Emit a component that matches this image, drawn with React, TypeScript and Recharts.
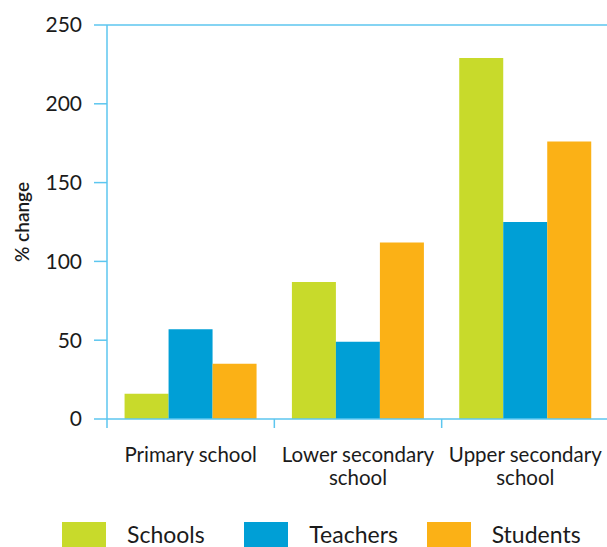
import React from 'react';
import { BarChart, Bar, XAxis, YAxis, ReferenceLine, Legend } from 'recharts';

const categories = ['Primary school', 'Lower secondary school', 'Upper secondary school'];
const categoryLines = [['Primary school'], ['Lower secondary', 'school'], ['Upper secondary', 'school']];
const schools = [16, 87, 229];
const teachers = [57, 49, 125];
const students = [35, 112, 176];
const yTicks = [0, 50, 100, 150, 200, 250];

const seriesNames = ['Schools', 'Teachers', 'Students'];
const seriesKeys = ['schools', 'teachers', 'students'];
const colors = ['#c8da2b', '#009fd6', '#fbb116'];

const AXIS = '#5cc6ef';
const TEXT = '#1b1b1b';
const FONT = 'Lato, "Open Sans", sans-serif';

const data = categories.map((c, i) => ({
  name: c,
  idx: i,
  schools: schools[i],
  teachers: teachers[i],
  students: students[i],
}));

const XTick = (props: any) => {
  const { x, y, payload, width, visibleTicksCount } = props;
  const band = width / visibleTicksCount;
  const lines = categoryLines[payload.index] || [String(payload.value)];
  return (
    <g>
      <line x1={x - band / 2} x2={x - band / 2} y1={y} y2={y + 9} stroke={AXIS} strokeWidth={1.5} />
      {lines.map((l, k) => (
        <text key={k} x={x} y={y + 43 + k * 23} textAnchor="middle" fill={TEXT} fontSize={20.5} fontFamily={FONT}>
          {l}
        </text>
      ))}
    </g>
  );
};

const LegendContent = () => (
  <div style={{ display: 'flex', paddingLeft: 62, paddingTop: 35, fontFamily: FONT }}>
    {seriesNames.map((n, i) => (
      <div key={n} style={{ display: 'flex', alignItems: 'center', width: 183.5, height: 25 }}>
        <div style={{ width: 44, height: 25, background: colors[i], marginRight: 21, flexShrink: 0 }} />
        <span style={{ fontSize: 23, color: TEXT, lineHeight: '25px' }}>{n}</span>
      </div>
    ))}
  </div>
);

const YLabel = () => {
  const cx = 21;
  const cy = 222;
  return (
    <text x={cx} y={cy} transform={`rotate(-90, ${cx}, ${cy})`} textAnchor="middle" dominantBaseline="central" fill={TEXT} fontSize={19} fontFamily={FONT} fontWeight={600}>
      % change
    </text>
  );
};

export default function App() {
  return (
    <div style={{ position: 'fixed', top: 0, left: 0, width: 607, height: 547, overflow: 'hidden', background: '#fff' }}>
      <BarChart
        width={609}
        height={547}
        data={data}
        margin={{ top: 25, right: 0, bottom: 0, left: 0 }}
        barCategoryGap="10.5%"
        barGap={0}
      >
        <ReferenceLine y={250} stroke={AXIS} strokeWidth={1.5} />
        <XAxis
          dataKey="name"
          height={68}
          axisLine={{ stroke: AXIS, strokeWidth: 1.5 }}
          tickLine={false}
          tickSize={0}
          tickMargin={0}
          tick={<XTick />}
          interval={0}
        />
        <YAxis
          width={107}
          domain={[0, 250]}
          ticks={yTicks}
          axisLine={{ stroke: AXIS, strokeWidth: 1.5 }}
          tickLine={{ stroke: AXIS, strokeWidth: 1.5 }}
          tickSize={13}
          tickMargin={12}
          tick={{ fill: TEXT, fontSize: 21, fontFamily: FONT }}
          label={<YLabel />}
        />
        <Legend verticalAlign="bottom" content={<LegendContent />} wrapperStyle={{ height: 60, top: 487 }} />
        {seriesKeys.map((k, i) => (
          <Bar key={k} dataKey={k} name={seriesNames[i]} fill={colors[i]} isAnimationActive={false} />
        ))}
      </BarChart>
    </div>
  );
}
